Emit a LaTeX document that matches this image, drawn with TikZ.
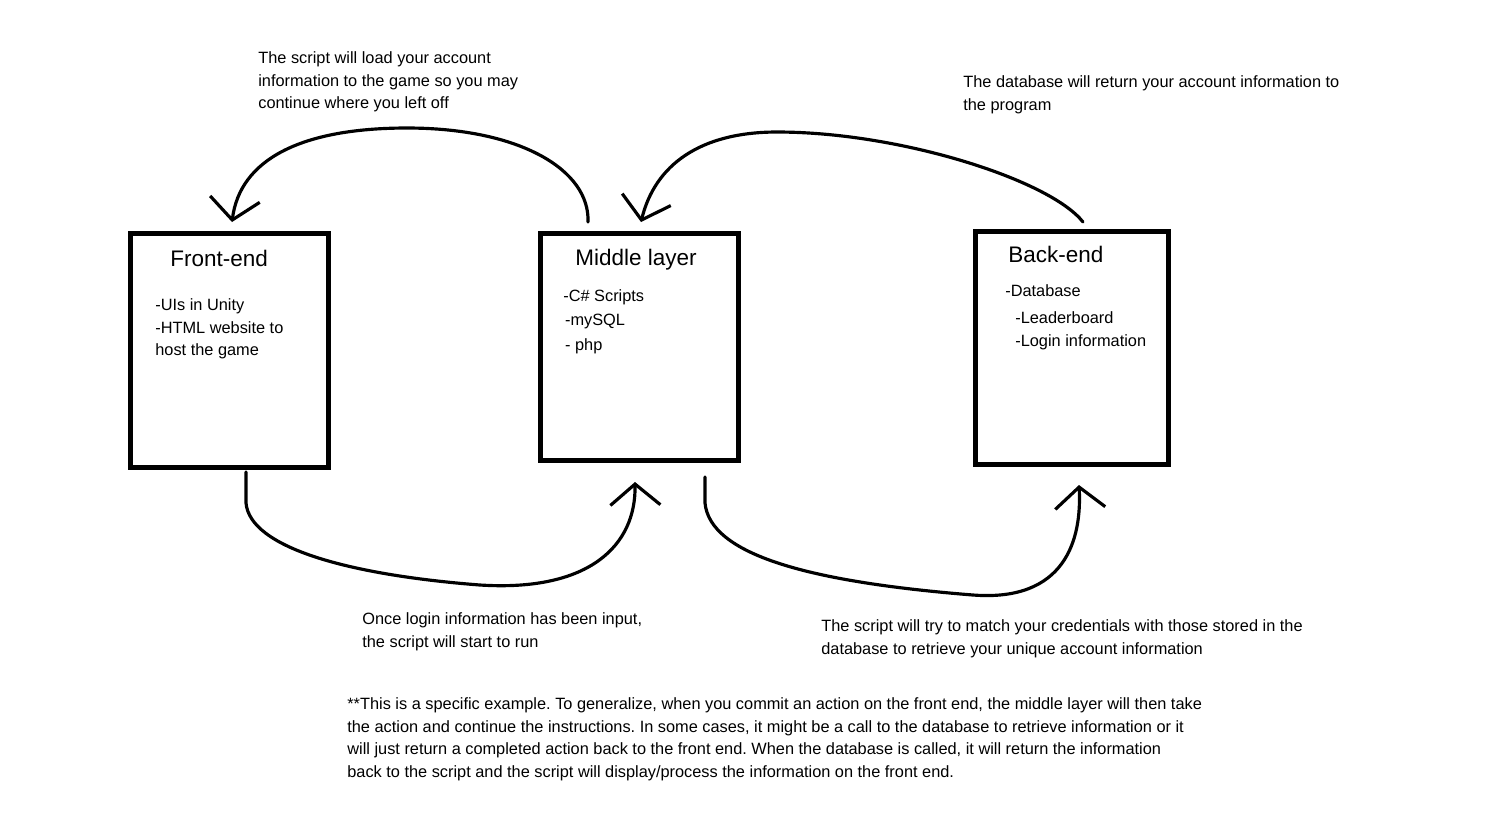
\documentclass[tikz,border=0pt]{standalone}
\usepackage{fontspec}
\setmainfont{Liberation Sans}
\usetikzlibrary{arrows.meta}
\frenchspacing

\begin{document}
\begin{tikzpicture}[x=0.02cm, y=-0.02cm, >={Straight Barb[length=0.42cm,width=1cm]},
  layer/.style={draw, line width=2.8pt, inner sep=0pt},
  title/.style={anchor=north west, inner sep=0pt, font=\fontsize{12.8}{15}\selectfont},
  note/.style={anchor=north west, inner sep=0pt, align=left, font=\fontsize{9.3}{13}\selectfont},
  link/.style={->, line width=1.8pt, line cap=round, line join=round}]
  \useasboundingbox (0,0) rectangle (1497,823);

  % the three layers
  \node[layer, minimum width=3.96cm, minimum height=4.68cm] (front) at (229.5,350.5) {};
  \node[layer, minimum width=3.96cm, minimum height=4.54cm] (middle) at (639.5,347) {};
  \node[layer, minimum width=3.86cm, minimum height=4.66cm] (back) at (1072,348) {};

  \node[title] (fronttitle) at (170,250) {Front-end};
  \node[title] (middletitle) at (575,249) {Middle layer};
  \node[title] (backtitle) at (1008,246) {Back-end};

  \node[note] (frontlist) at (155,298) {-UIs in Unity\\-HTML website to\\host the game};
  \node[note] (middlelist) at (563,289) {-C\# Scripts\\[1pt]\hspace*{1pt}-mySQL\\[1pt]\hspace*{1pt}- php};
  \node[note] (backdb) at (1005,284) {-Database};
  \node[note] (backlist) at (1015,311) {-Leaderboard\\-Login information};

  % connectors
  \coordinate (loadS) at (588,222);
  \coordinate (loadE) at (232,222);
  \coordinate (retS) at (1083,222);
  \coordinate (retE) at (641,222);
  \coordinate (inS) at (246,472);
  \coordinate (inE) at (635,482);
  \coordinate (askS) at (705,477);
  \coordinate (askE) at (1079,485);

  \draw[link] (loadS) .. controls (590,170) and (520,128) .. (407,128)
    .. controls (300,128) and (240,160) .. (loadE);
  \draw[link] (retS) .. controls (1050,180) and (900,132) .. (777,132)
    .. controls (700,132) and (655,165) .. (retE);
  \draw[link] (inS) -- (246,503) .. controls (250,548) and (350,575) .. (480,585)
    .. controls (590,592) and (636,545) .. (inE);
  \draw[link] (askS) -- (705,503) .. controls (710,555) and (810,582) .. (973,595)
    .. controls (1065,602) and (1082,540) .. (askE);

  % labels
  \node[note] (loadtext) at (258,51) {The script will load your account\\information to the game so you may\\continue where you left off};
  \node[note] (rettext) at (963,75) {The database will return your account information to\\the program};
  \node[note] (intext) at (362,612) {Once login information has been input,\\the script will start to run};
  \node[note] (asktext) at (821,619) {The script will try to match your credentials with those stored in the\\database to retrieve your unique account information};
  \node[note] (footnote) at (347,697) {**This is a specific example. To generalize, when you commit an action on the front end, the middle layer will then take\\the action and continue the instructions. In some cases, it might be a call to the database to retrieve information or it\\will just return a completed action back to the front end. When the database is called, it will return the information\\back to the script and the script will display/process the information on the front end.};
\end{tikzpicture}
\end{document}
